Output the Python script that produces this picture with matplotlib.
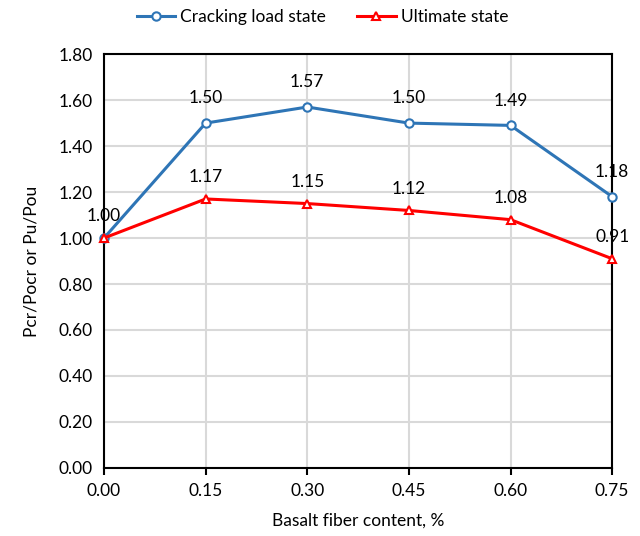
import matplotlib.pyplot as plt

fiber = [0.00, 0.15, 0.30, 0.45, 0.60, 0.75]
cracking = [1.00, 1.50, 1.57, 1.50, 1.49, 1.18]
ultimate = [1.00, 1.17, 1.15, 1.12, 1.08, 0.91]
tick_labels = ['0.00', '0.15', '0.30', '0.45', '0.60', '0.75']
yticks = [0.0, 0.2, 0.4, 0.6, 0.8, 1.0, 1.2, 1.4, 1.6, 1.8]

plt.rcParams['font.family'] = ['Lato', 'DejaVu Sans']
plt.rcParams['font.size'] = 12.5

fig = plt.figure(figsize=(6.4, 5.36), dpi=100)
ax = fig.add_axes([0.1625, 0.127, 0.794, 0.772])

blue = '#2E75B6'
red = '#FF0000'
ax.plot(fiber, cracking, color=blue, lw=2.2, marker='o', ms=6,
        mfc='white', mec=blue, mew=1.5, label='Cracking load state',
        zorder=3, clip_on=False)
ax.plot(fiber, ultimate, color=red, lw=2.2, marker='^', ms=6,
        mfc='white', mec=red, mew=1.5, label='Ultimate state',
        zorder=3, clip_on=False)

# data labels
for i, (x, y) in enumerate(zip(fiber, cracking)):
    if i == 0:
        continue
    ax.annotate(f'{y:.2f}', (x, y), xytext=(0, 12), textcoords='offset points',
                ha='center', va='bottom')
for i, (x, y) in enumerate(zip(fiber, ultimate)):
    ax.annotate(f'{y:.2f}', (x, y), xytext=(0, 10), textcoords='offset points',
                ha='center', va='bottom')

ax.set_xlim(0, 0.75)
ax.set_ylim(0, 1.8)
ax.set_xticks(fiber)
ax.set_xticklabels(tick_labels)
ax.set_yticks(yticks)
ax.set_yticklabels([f'{v:.2f}' for v in yticks])
ax.grid(True, color='#D9D9D9', lw=1.5)
ax.set_axisbelow(True)
for s in ax.spines.values():
    s.set_color('black')
    s.set_linewidth(1.5)
ax.tick_params(axis='x', length=5, width=1.5, pad=6)
ax.tick_params(axis='y', length=0, pad=8)

ax.set_xlabel('Basalt fiber content, %', labelpad=10)
ax.set_ylabel('Pcr/Pocr or Pu/Pou', labelpad=14)

ax.legend(loc='lower center', bbox_to_anchor=(0.43, 1.04), ncol=2,
          frameon=False, handlelength=2.2, handletextpad=0.3,
          columnspacing=1.8, borderaxespad=0.3)

plt.savefig('out.png', dpi=100)
